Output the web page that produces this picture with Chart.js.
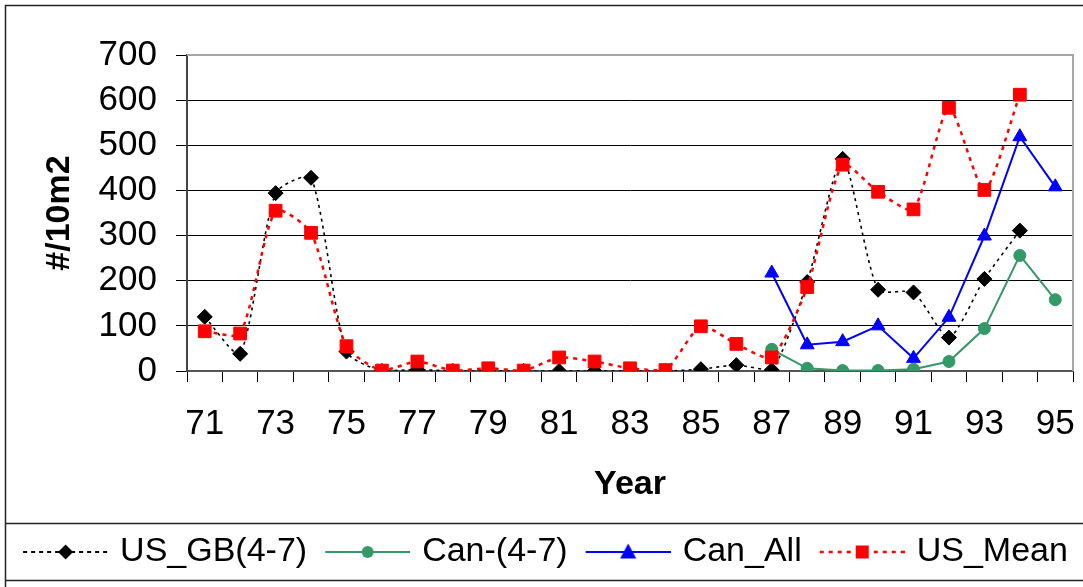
<!DOCTYPE html>
<html>
<head>
<meta charset="utf-8">
<title>#/10m2 by Year</title>
<script src="https://cdn.jsdelivr.net/npm/chart.js@4.4.1/dist/chart.umd.min.js"></script>
<style>
    html, body { margin: 0; padding: 0; background: #fff; }
    #wrap { width: 1083px; height: 587px; }
</style>
</head>
<body>
<div id="wrap"><canvas id="chart" width="1083" height="587"></canvas></div>
<script>
const years = ['71', '72', '73', '74', '75', '76', '77', '78', '79', '80', '81', '82', '83',
    '84', '85', '86', '87', '88', '89', '90', '91', '92', '93', '94', '95'];

const usGB = [120, 38, 394, 428, 43, 0, 3, 0, 0, 0, 0, 0, 0,
    0, 4, 13, 2, 197, 470, 180, 174, 74, 204, 311, null];
const canSmall = [null, null, null, null, null, null, null, null, null, null, null, null, null,
    null, null, null, 48, 6, 1, 1, 4, 21, 94, 256, 158];
const canAll = [null, null, null, null, null, null, null, null, null, null, null, null, null,
    null, null, null, 217, 58, 65, 100, 28, 119, 299, 519, 408];
const usMean = [88, 83, 355, 306, 55, 1, 21, 1, 6, 1, 30, 21, 6,
    2, 99, 60, 30, 186, 457, 397, 358, 583, 401, 612, null];

const seriesNames = ['US_GB(4-7)', 'Can-(4-7)', 'Can_All', 'US_Mean'];
const yMin = 0;
const yMax = 700;
const yStep = 100;

const FONT = "'Liberation Sans', Arial, sans-serif";
const GREEN = '#339966';
const BLUE = '#0000ff';
const RED = '#ff0000';

function drawMarker(ctx, kind, x, y, r) {
    ctx.beginPath();
    if (kind === 'diamond') {
        ctx.moveTo(x - r, y); ctx.lineTo(x, y - r); ctx.lineTo(x + r, y); ctx.lineTo(x, y + r);
    } else if (kind === 'square') {
        ctx.rect(x - r, y - r, r * 2, r * 2);
    } else if (kind === 'circle') {
        ctx.arc(x, y, r, 0, Math.PI * 2);
    } else {
        ctx.moveTo(x, y - r); ctx.lineTo(x + r * 0.95, y + r * 0.75); ctx.lineTo(x - r * 0.95, y + r * 0.75);
    }
    ctx.closePath();
    ctx.fill();
}

// small line + marker pictures for the legend
function legendSample(color, dash, width, kind, r) {
    const c = document.createElement('canvas');
    c.width = 108;
    c.height = 30;
    const ctx = c.getContext('2d');
    ctx.strokeStyle = color;
    ctx.lineWidth = width;
    ctx.setLineDash(dash);
    ctx.beginPath();
    ctx.moveTo(23, 15);
    ctx.lineTo(108, 15);
    ctx.stroke();
    ctx.setLineDash([]);
    ctx.fillStyle = color;
    drawMarker(ctx, kind, 65.5, 15, r);
    return c;
}

const samples = [
    legendSample('#000', [4, 4], 2, 'diamond', 7.5),
    legendSample(GREEN, [], 2, 'circle', 6),
    legendSample(BLUE, [], 2, 'triangle', 8.5),
    legendSample(RED, [4, 5], 2.5, 'square', 6.5)
];

const framePlugin = {
    id: 'frame',
    afterDraw(chart) {
        const { ctx, chartArea: a } = chart;
        ctx.save();
        ctx.strokeStyle = '#a6a6a6';
        ctx.lineWidth = 2;
        ctx.beginPath();
        ctx.moveTo(a.left, a.top);
        ctx.lineTo(a.right, a.top);
        ctx.lineTo(a.right, a.bottom);
        ctx.stroke();

        ctx.strokeStyle = '#222';
        ctx.lineWidth = 1.5;
        ctx.beginPath();
        ctx.moveTo(5.5, 587);
        ctx.lineTo(5.5, 5.5);
        ctx.lineTo(1083, 5.5);
        ctx.moveTo(5.5, 523.5);
        ctx.lineTo(1083, 523.5);
        ctx.moveTo(5.5, 580.5);
        ctx.lineTo(1083, 580.5);
        ctx.stroke();
        ctx.restore();
    }
};

const PLOT_LEFT = 187;
const PLOT_BOTTOM = 371;
const PAD_BOTTOM = 8;

new Chart(document.getElementById('chart'), {
    type: 'line',
    data: {
        labels: years,
        datasets: [
            {
                label: seriesNames[0], data: usGB, order: 4,
                borderColor: '#000', backgroundColor: '#000', borderWidth: 1.6, borderDash: [3, 4],
                tension: 0.22, pointStyle: 'rectRot', pointRadius: 7.5, pointBorderWidth: 1
            },
            {
                label: seriesNames[1], data: canSmall, order: 3,
                borderColor: GREEN, backgroundColor: GREEN, borderWidth: 2,
                tension: 0, pointStyle: 'circle', pointRadius: 6, pointBorderWidth: 1
            },
            {
                label: seriesNames[2], data: canAll, order: 2,
                borderColor: BLUE, backgroundColor: BLUE, borderWidth: 2,
                tension: 0, pointStyle: 'triangle', pointRadius: 8, pointBorderWidth: 1
            },
            {
                label: seriesNames[3], data: usMean, order: 1,
                borderColor: RED, backgroundColor: RED, borderWidth: 2.5, borderDash: [4, 5],
                tension: 0.22, pointStyle: 'rect', pointRadius: 9, pointBorderWidth: 1
            }
        ]
    },
    options: {
        responsive: false,
        animation: false,
        spanGaps: false,
        layout: { padding: { left: 0, top: 55, right: 10, bottom: PAD_BOTTOM } },
        plugins: {
            tooltip: { enabled: false },
            legend: {
                position: 'bottom',
                labels: {
                    usePointStyle: true,
                    pointStyleWidth: 98,
                    padding: 0,
                    color: '#000',
                    font: { family: FONT, size: 34 },
                    generateLabels: chart => Chart.defaults.plugins.legend.labels.generateLabels(chart)
                        .sort((a, b) => a.datasetIndex - b.datasetIndex)
                        .map(item => Object.assign(item, { pointStyle: samples[item.datasetIndex] }))
                }
            }
        },
        scales: {
            x: {
                offset: true,
                grid: { offset: true, drawOnChartArea: false, drawTicks: true, tickLength: 11, color: '#000' },
                border: { display: true, color: '#555', width: 2 },
                ticks: {
                    autoSkip: false,
                    maxRotation: 0,
                    padding: 21,
                    color: '#000',
                    font: { family: FONT, size: 35 },
                    callback: function (value, index) {
                        return index % 2 === 0 ? this.getLabelForValue(value) : '';
                    }
                },
                title: {
                    display: true, text: 'Year', color: '#000',
                    font: { family: FONT, size: 34, weight: 'bold' },
                    padding: { top: 0, bottom: 30 }
                },
                afterFit: s => {
                    s.height = s.chart.height - PAD_BOTTOM - s.chart.legend.height - PLOT_BOTTOM;
                    s.paddingLeft = 0;
                    s.paddingRight = 0;
                }
            },
            y: {
                min: yMin,
                max: yMax,
                grid: { color: '#000', lineWidth: 1, tickLength: 11 },
                border: { display: true, color: '#444', width: 2 },
                ticks: {
                    stepSize: yStep,
                    padding: 19,
                    color: '#000',
                    font: { family: FONT, size: 35 }
                },
                title: {
                    display: true, text: '#/10m2', color: '#000',
                    font: { family: FONT, size: 34, weight: 'bold' },
                    padding: { top: 39, bottom: 0 }
                },
                afterFit: s => {
                    s.width = PLOT_LEFT;
                    s.paddingTop = 0;
                    s.paddingBottom = 0;
                }
            }
        }
    },
    plugins: [framePlugin]
});
</script>
</body>
</html>
